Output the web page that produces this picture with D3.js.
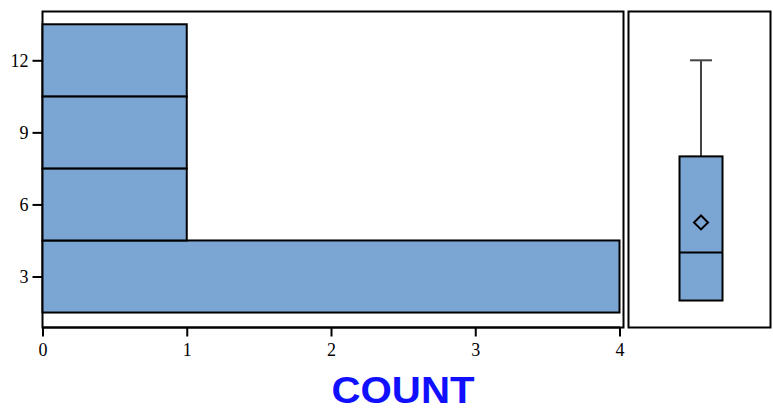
<!DOCTYPE html>
<html><head><meta charset="utf-8">
<script src="https://cdn.jsdelivr.net/npm/d3@7"></script>
<style>body{margin:0;background:#fff}svg{display:block}</style>
</head><body><svg id="c" width="773" height="411"></svg>
<script>
// data
const binStarts = [1.5, 4.5, 7.5, 10.5];
const binEnds = [4.5, 7.5, 10.5, 13.5];
const counts = [4, 1, 1, 1];
const countTicks = [0, 1, 2, 3, 4];
const valueTicks = [3, 6, 9, 12];
const boxStats = {min: 2, q1: 2, median: 4, q3: 8, max: 12, mean: 5.25};
const xTitle = "COUNT";

const svg = d3.select("#c");
const fill = "#7BA6D3";
const serif = "'Liberation Serif', 'DejaVu Serif', serif";
const y = d3.scaleLinear().domain([3, 12]).range([276.5, 60.3]);
const x = d3.scaleLinear().domain([0, 4]).range([42.5, 619.5]);

// main frame
svg.append("rect").attr("x", 42.5).attr("y", 11.5).attr("width", 581).attr("height", 316)
  .attr("fill", "none").attr("stroke", "#000").attr("stroke-width", 2);

// bars
svg.append("g").selectAll("rect").data(counts).join("rect")
  .attr("x", x(0))
  .attr("y", (d, i) => y(binEnds[i]))
  .attr("width", d => x(d) - x(0))
  .attr("height", (d, i) => y(binStarts[i]) - y(binEnds[i]))
  .attr("fill", fill).attr("stroke", "#000").attr("stroke-width", 2);

// y axis
const ya = svg.append("g").attr("transform", "translate(42.5,0)")
  .call(d3.axisLeft(y).tickValues(valueTicks).tickFormat(d3.format("d")).tickSize(10).tickPadding(4));
ya.select(".domain").remove();
ya.selectAll("line").attr("stroke-width", 2);
ya.selectAll("text").style("font-family", serif).style("font-size", "18px").attr("fill", "#000");

// x axis
const xa = svg.append("g").attr("transform", "translate(0,327.5)")
  .call(d3.axisBottom(x).tickValues(countTicks).tickFormat(d3.format("d")).tickSize(9).tickPadding(7));
xa.select(".domain").attr("stroke-width", 2).attr("d", "M42.5,0H620");
xa.selectAll("line").attr("stroke-width", 2);
xa.selectAll("text").style("font-family", serif).style("font-size", "18px").attr("fill", "#000");

// title
svg.append("text").attr("x", 403).attr("y", 403).attr("text-anchor", "middle")
  .style("font-family", "'Liberation Sans', Arial, sans-serif").attr("font-weight", "bold").attr("font-size", 37)
  .attr("textLength", 143).attr("lengthAdjust", "spacingAndGlyphs")
  .attr("fill", "#1010FF").text(xTitle);

// box panel
svg.append("rect").attr("x", 628.5).attr("y", 11.5).attr("width", 142).attr("height", 316)
  .attr("fill", "none").attr("stroke", "#000").attr("stroke-width", 2);
const cx = 701, bw = 43, cap = 22;
const bp = svg.append("g");
bp.append("line").attr("x1", cx).attr("x2", cx).attr("y1", y(boxStats.q3)).attr("y2", y(boxStats.max))
  .attr("stroke", "#444").attr("stroke-width", 2);
bp.append("line").attr("x1", cx - cap / 2).attr("x2", cx + cap / 2).attr("y1", y(boxStats.max)).attr("y2", y(boxStats.max))
  .attr("stroke", "#444").attr("stroke-width", 2);
bp.append("line").attr("x1", cx).attr("x2", cx).attr("y1", y(boxStats.min)).attr("y2", y(boxStats.q1))
  .attr("stroke", "#444").attr("stroke-width", 2);
bp.append("rect").attr("x", cx - bw / 2).attr("y", y(boxStats.q3)).attr("width", bw)
  .attr("height", y(boxStats.q1) - y(boxStats.q3))
  .attr("fill", fill).attr("stroke", "#000").attr("stroke-width", 2);
bp.append("line").attr("x1", cx - bw / 2).attr("x2", cx + bw / 2).attr("y1", y(boxStats.median)).attr("y2", y(boxStats.median))
  .attr("stroke", "#000").attr("stroke-width", 2);
const my = y(boxStats.mean), r = 7;
bp.append("path").attr("d", `M${cx},${my - r}L${cx + r},${my}L${cx},${my + r}L${cx - r},${my}Z`)
  .attr("fill", "none").attr("stroke", "#000").attr("stroke-width", 2);
</script></body></html>
